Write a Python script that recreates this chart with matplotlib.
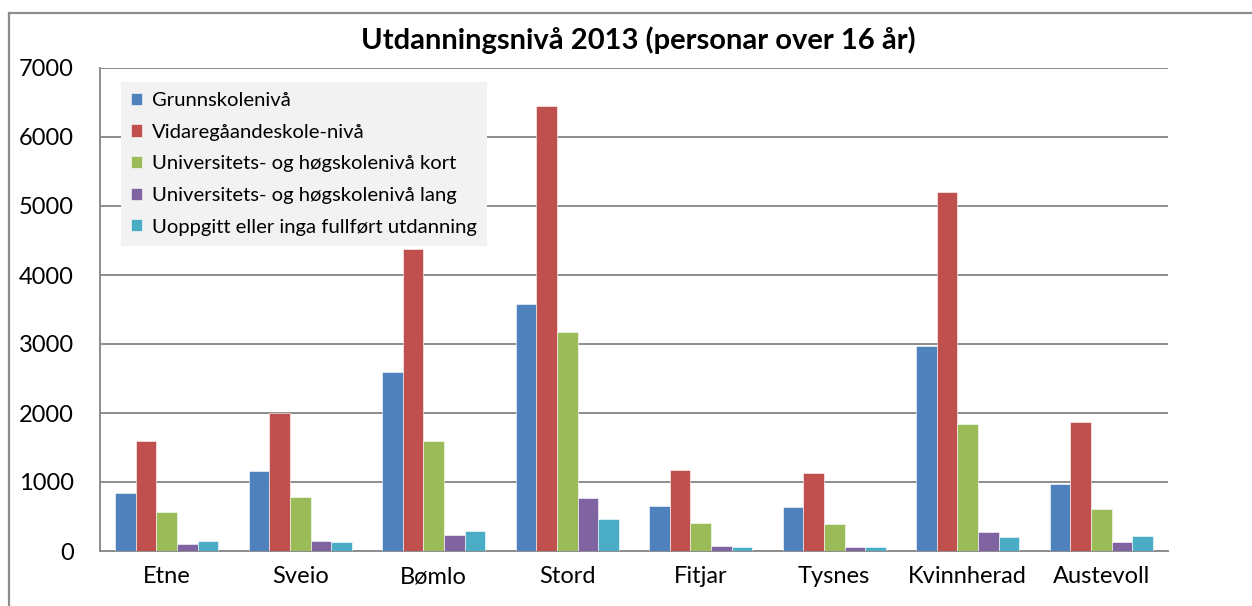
import numpy as np
import matplotlib
matplotlib.use("Agg")
import matplotlib.pyplot as plt
from matplotlib.lines import Line2D

plt.rcParams['font.family'] = ['Lato', 'DejaVu Sans']

kommunar = ['Etne', 'Sveio', 'Bømlo', 'Stord', 'Fitjar', 'Tysnes', 'Kvinnherad', 'Austevoll']
serie_namn = [
    'Grunnskolenivå',
    'Vidaregåandeskole-nivå',
    'Universitets- og høgskolenivå kort',
    'Universitets- og høgskolenivå lang',
    'Uoppgitt eller inga fullført utdanning',
]
grunnskole = [846, 1155, 2594, 3575, 652, 643, 2975, 964]
vidaregaande = [1594, 2005, 4372, 6450, 1174, 1136, 5196, 1871]
uni_kort = [565, 778, 1600, 3174, 401, 387, 1842, 608]
uni_lang = [97, 150, 228, 764, 72, 58, 279, 130]
uoppgitt = [140, 130, 286, 459, 58, 58, 197, 221]

farger = ['#4F81BD', '#C0504D', '#9BBB59', '#8064A2', '#4BACC6']
yticks = [0, 1000, 2000, 3000, 4000, 5000, 6000, 7000]

W, H = 1252, 606
fig = plt.figure(figsize=(W / 100, H / 100), dpi=100)
ax = fig.add_axes([100 / W, 1 - 551 / H, 1068 / W, 483 / H])

serier = [grunnskole, vidaregaande, uni_kort, uni_lang, uoppgitt]
x = np.arange(len(kommunar))
bw = 1 / 6.5
for i, (vals, farge, namn) in enumerate(zip(serier, farger, serie_namn)):
    ax.bar(x + (i - 2) * bw, vals, width=bw, color=farge, label=namn,
           edgecolor='white', linewidth=0.4, zorder=3)

ax.set_xlim(-0.5, len(kommunar) - 0.5)
ax.set_ylim(0, 7000)
ax.set_yticks(yticks)
ax.set_yticklabels([str(v) for v in yticks], fontsize=17)
ax.set_xticks(x)
ax.set_xticklabels(kommunar, fontsize=17)
ax.tick_params(axis='y', length=0, pad=19)
ax.tick_params(axis='x', length=0, pad=11)
ax.grid(axis='y', color='#8c8c8c', linewidth=1.4, zorder=0)
for s in ['top', 'right']:
    ax.spines[s].set_visible(False)
for s in ['left', 'bottom']:
    ax.spines[s].set_color('#8c8c8c')
    ax.spines[s].set_linewidth(1.4)

fig.text(638 / W, 1 - 40 / H, 'Utdanningsnivå 2013 (personar over 16 år)',
         ha='center', va='center', fontsize=21, fontweight='bold')

leg = ax.legend(loc='upper left', bbox_to_anchor=(121 / W, 1 - 82 / H),
                bbox_transform=fig.transFigure, borderaxespad=0,
                fontsize=14.6, handlelength=0.55, handleheight=0.55,
                handletextpad=0.5, labelspacing=0.72, borderpad=0.5,
                fancybox=False, facecolor='#f2f2f2', edgecolor='none',
                framealpha=1)
leg.set_zorder(5)

# chart area border (top and left visible)
fig.add_artist(Line2D([9 / W, 1], [1 - 13 / H, 1 - 13 / H], color='#8c8c8c', lw=1.6))
fig.add_artist(Line2D([9 / W, 9 / W], [0, 1 - 13 / H], color='#8c8c8c', lw=1.6))

fig.savefig('out.png', dpi=100)
